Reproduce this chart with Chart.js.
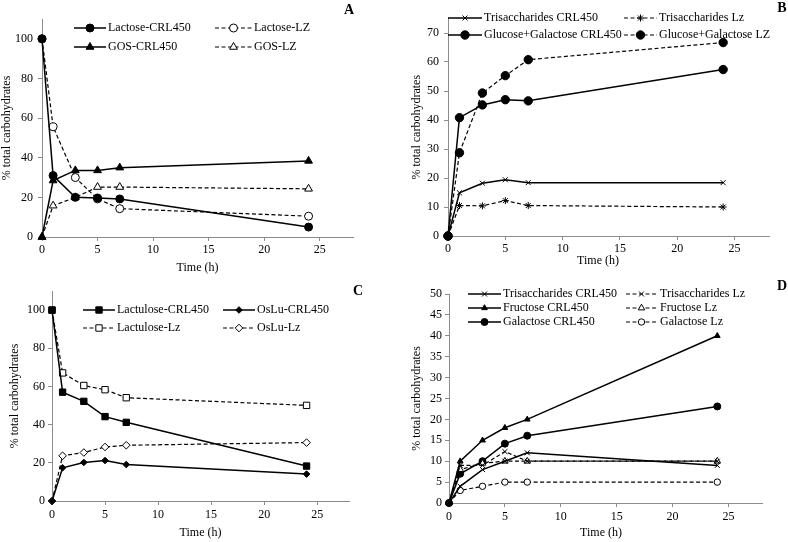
<!DOCTYPE html>
<html>
<head>
<meta charset="utf-8">
<script src="https://cdn.jsdelivr.net/npm/chart.js@4.4.1/dist/chart.umd.min.js"></script>
<style>
body{margin:0;background:#fff;width:788px;height:542px;overflow:hidden;position:relative}
canvas{position:absolute}
</style>
</head>
<body>
<canvas id="cA" width="394" height="280" style="left:0;top:0"></canvas>
<canvas id="cB" width="394" height="271" style="left:394px;top:0"></canvas>
<canvas id="cC" width="394" height="271" style="left:0;top:271px"></canvas>
<canvas id="cD" width="394" height="271" style="left:394px;top:271px"></canvas>
<script>
// sampling times (h), same for every panel
const time = [0, 1, 3, 5, 7, 24];
const xTicks = [0, 5, 10, 15, 20, 25];

// A
const lactoseCRL = [100, 31, 20, 19.7, 19.2, 5];
const lactoseLZ = [100, 55.6, 30, 19.2, 14.3, 10.5];
const gosCRL = [0, 28.5, 33.6, 33.6, 35, 38.4];
const gosLZ = [0, 15.8, 20, 25.2, 25.2, 24.3];
const yTicksA = [0, 20, 40, 60, 80, 100];

// B
const triCRL_B = [0, 14.9, 18.2, 19.4, 18.4, 18.4];
const triLZ_B = [0, 10.5, 10.4, 12.2, 10.5, 10];
const gluGalCRL = [0, 40.8, 45.2, 47, 46.6, 57.4];
const gluGalLZ = [0, 28.7, 49.3, 55.3, 60.8, 66.7];
const yTicksB = [0, 10, 20, 30, 40, 50, 60, 70];

// C
const lactuloseCRL = [100, 57, 52.2, 44.2, 41.2, 18.3];
const osluCRL = [0, 17.4, 20.2, 21.2, 19.1, 14.1];
const lactuloseLZ = [100, 67.1, 60.5, 58.3, 54.1, 50.1];
const osluLZ = [0, 23.7, 25.4, 28.3, 29.2, 30.6];
const yTicksC = [0, 20, 40, 60, 80, 100];

// D
const triCRL_D = [0, 4, 8, 10, 12, 9];
const triLZ_D = [0, 9, 9, 12.3, 10, 10];
const fruCRL = [0, 10, 15, 18, 20, 40];
const fruLZ = [0, 8, 9.5, 10, 10, 10];
const galCRL = [0, 7, 10, 14.2, 16.1, 23.1];
const galLZ = [0, 3, 4, 5, 5, 5];
const yTicksD = [0, 5, 10, 15, 20, 25, 30, 35, 40, 45, 50];

const serif = '"Liberation Serif", "Times New Roman", serif';
const font = { family: serif, size: 12 };
const axisGrey = '#8c8c8c';

function series(label, vals, style, r, filled, dashed) {
  return {
    label, data: time.map((t, i) => ({ x: t, y: vals[i] })),
    borderColor: '#000', backgroundColor: filled ? '#000' : '#fff',
    pointBorderColor: '#000', pointBackgroundColor: filled ? '#000' : '#fff',
    pointStyle: style, pointRadius: r, pointBorderWidth: 1,
    borderWidth: dashed ? 1.2 : 1.5, borderDash: dashed ? [4, 2.5] : [],
    tension: 0, clip: false
  };
}

// excel style legend: two columns inside the plot, plus the panel letter
const sheetLegend = {
  id: 'sheetLegend',
  afterDraw(chart, args, o) {
    const ctx = chart.ctx;
    ctx.save();
    ctx.font = '12px ' + serif;
    ctx.textBaseline = 'middle';
    ctx.textAlign = 'left';
    chart.data.datasets.forEach((d, i) => {
      const c = o.cols[i % 2], y = o.rows[Math.floor(i / 2)];
      ctx.strokeStyle = '#000';
      ctx.lineWidth = d.borderWidth;
      ctx.setLineDash(d.borderDash);
      ctx.beginPath(); ctx.moveTo(c[0], y); ctx.lineTo(c[1], y); ctx.stroke();
      ctx.setLineDash([]);
      ctx.lineWidth = 1;
      ctx.fillStyle = d.backgroundColor;
      Chart.helpers.drawPoint(ctx, { pointStyle: d.pointStyle, radius: d.pointRadius, borderWidth: 1, rotation: 0 }, (c[0] + c[1]) / 2, y);
      ctx.fillStyle = '#000';
      ctx.fillText(d.label, c[2], y);
    });
    ctx.font = 'bold 14px ' + serif;
    ctx.textAlign = 'center';
    ctx.fillText(o.letter, o.lx, o.ly);
    ctx.restore();
  }
};

function makeChart(id, datasets, cfg) {
  return new Chart(document.getElementById(id), {
    type: 'line',
    data: { datasets },
    options: {
      responsive: false, animation: false,
      layout: { padding: { left: 0, top: cfg.top, right: cfg.right, bottom: 0 } },
      plugins: { legend: { display: false }, tooltip: { enabled: false }, sheetLegend: cfg.legend },
      scales: {
        x: {
          type: 'linear', min: 0, max: 28,
          afterBuildTicks: s => { s.ticks = xTicks.map(v => ({ value: v })); },
          afterFit: s => { s.height = cfg.xh; },
          grid: { drawOnChartArea: false, drawTicks: true, tickLength: 4, color: axisGrey },
          border: { color: axisGrey, width: 1 },
          ticks: { font, color: '#000', padding: cfg.xpad, maxRotation: 0 },
          // trailing spaces nudge the centred title left where excel placed it off-centre
          title: { display: true, text: 'Time (h)' + '\u00a0'.repeat(cfg.nudge || 0), font, color: '#000', padding: { top: 0, bottom: cfg.tpad } }
        },
        y: {
          type: 'linear', min: 0, max: cfg.ymax,
          afterBuildTicks: s => { s.ticks = cfg.yticks.map(v => ({ value: v })); },
          afterFit: s => { s.width = cfg.yw; },
          grid: { drawOnChartArea: false, drawTicks: true, tickLength: 4, color: axisGrey },
          border: { color: axisGrey, width: 1 },
          ticks: { font, color: '#000', padding: cfg.ypad },
          title: { display: true, text: '% total carbohydrates', font, color: '#000', padding: { top: cfg.ytp, bottom: 0 } }
        }
      }
    },
    plugins: [sheetLegend]
  });
}

makeChart('cA', [
  series('Lactose-CRL450', lactoseCRL, 'circle', 4, true, false),
  series('Lactose-LZ', lactoseLZ, 'circle', 4, false, true),
  series('GOS-CRL450', gosCRL, 'triangle', 4.5, true, false),
  series('GOS-LZ', gosLZ, 'triangle', 4.5, false, true)
], { top: 19, right: 41, xh: 43, yw: 42, ymax: 110, yticks: yTicksA, xpad: 2, tpad: 5, ypad: 5, ytp: 0,
  legend: { cols: [[74, 106, 108], [215, 252, 254]], rows: [28, 47], letter: 'A', lx: 349, ly: 10 } });

makeChart('cB', [
  series('Trisaccharides CRL450', triCRL_B, 'crossRot', 3.5, false, false),
  series('Trisaccharides Lz', triLZ_B, 'star', 3.5, false, true),
  series('Glucose+Galactose CRL450', gluGalCRL, 'circle', 4.2, true, false),
  series('Glucose+Galactose LZ', gluGalLZ, 'circle', 4.2, true, true)
], { top: 18.5, right: 19, xh: 35, yw: 54, ymax: 75, yticks: yTicksB, xpad: 2, tpad: 3, ypad: 5, ytp: 16, nudge: 7,
  legend: { cols: [[54, 88, 90], [230, 263, 265]], rows: [18, 35], letter: 'B', lx: 388, ly: 8 } });

makeChart('cC', [
  series('Lactulose-CRL450', lactuloseCRL, 'rect', 4.5, true, false),
  series('OsLu-CRL450', osluCRL, 'rectRot', 3.3, true, false),
  series('Lactulose-Lz', lactuloseLZ, 'rect', 4.5, false, true),
  series('OsLu-Lz', osluLZ, 'rectRot', 3.8, false, true)
], { top: 20, right: 45, xh: 41, yw: 52, ymax: 110, yticks: yTicksC, xpad: 3, tpad: 2, ypad: 3, ytp: 8,
  legend: { cols: [[83, 115, 117], [223, 255, 257]], rows: [39, 57], letter: 'C', lx: 358, ly: 20 } });

makeChart('cD', [
  series('Trisaccharides CRL450', triCRL_D, 'crossRot', 3.5, false, false),
  series('Trisaccharides Lz', triLZ_D, 'crossRot', 3.5, false, true),
  series('Fructose CRL450', fruCRL, 'triangle', 3.3, true, false),
  series('Fructose Lz', fruLZ, 'triangle', 3.8, false, true),
  series('Galactose CRL450', galCRL, 'circle', 3.5, true, false),
  series('Galactose Lz', galLZ, 'circle', 3.2, false, true)
], { top: 23, right: 26, xh: 39, yw: 55, ymax: 50, yticks: yTicksD, xpad: 3, tpad: 2, ypad: 3, ytp: 16, nudge: 3,
  legend: { cols: [[74, 107, 109], [232, 263, 266]], rows: [23, 37, 51], letter: 'D', lx: 388, ly: 15 } });
</script>
</body>
</html>
